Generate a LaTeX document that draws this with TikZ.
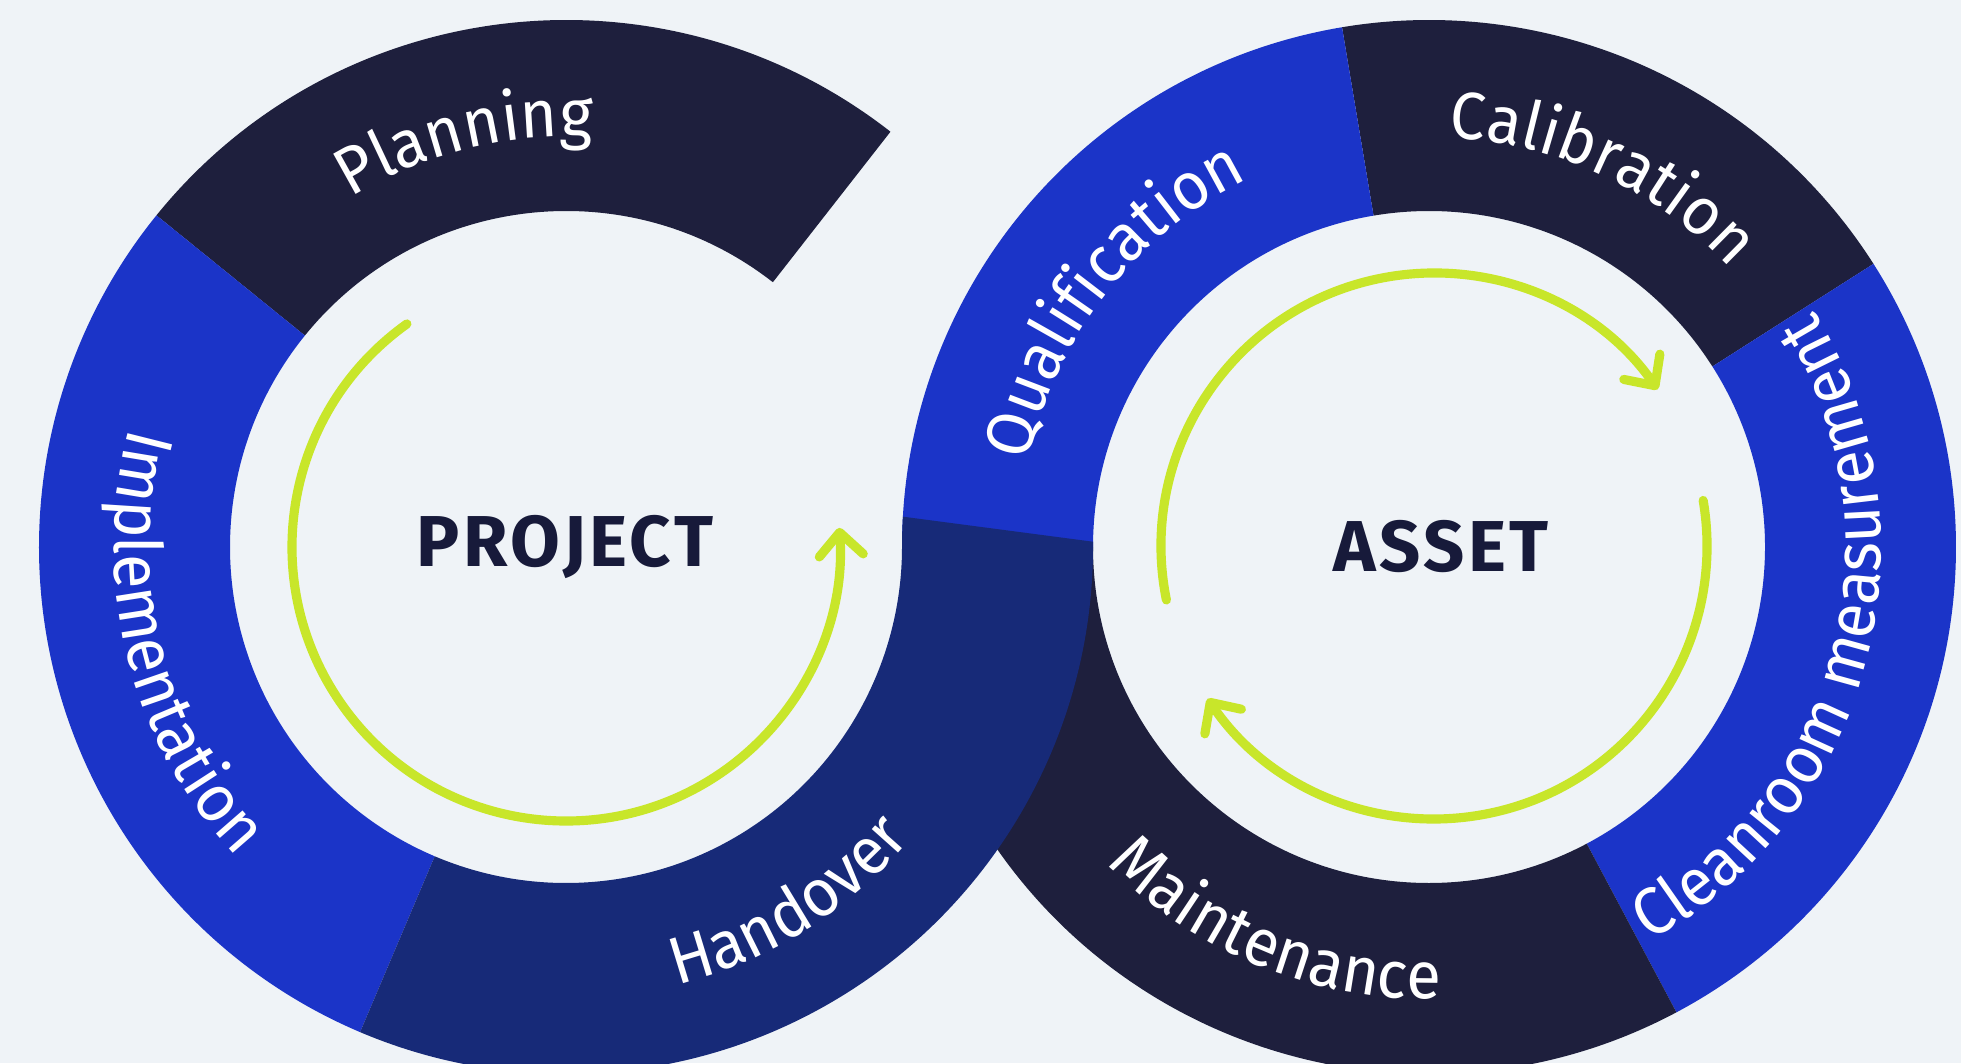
\documentclass[tikz,border=0pt]{standalone}
\usepackage{fontspec}
\setmainfont{Fira Sans}
\newfontfamily\ringfont[FakeStretch=0.95]{Fira Sans}
\newfontfamily\hubfamily[LetterSpace=5]{Fira Sans}
\usetikzlibrary{calc, decorations.text, arrows.meta}

\definecolor{bgpale}{HTML}{EFF3F7}
\definecolor{navydark}{HTML}{1E1F3D}
\definecolor{bluebright}{HTML}{1B34C8}
\definecolor{navymid}{HTML}{172A78}
\definecolor{lime}{HTML}{C8E62A}
\definecolor{inkdark}{HTML}{171A3A}

\newcommand{\ringin}{336}
\newcommand{\ringout}{527}
\newcommand{\lblfont}{\color{white}\ringfont\fontsize{19}{21}\selectfont}
% one piece of a ring: style, centre, from angle, to angle
\newcommand{\ringseg}[4]{
\fill[#1] ($#2+(#3:\ringin)$) arc[start angle=#3, end angle=#4, radius=\ringin]
-- ($#2+(#4:\ringout)$) arc[start angle=#4, end angle=#3, radius=\ringout] -- cycle;
}
% label written along an arc: centre, radius, from angle, to angle, text
\newcommand{\seglabel}[5]{
\path[decorate, decoration={text along path, text align=center, text={|\lblfont|#5}}]
($#1+(#3:#2)$) arc[start angle=#3, end angle=#4, radius=#2];
}

\begin{document}
\begin{tikzpicture}[
x=0.01cm, y=0.01cm,
% ring pieces
dark/.style={fill=navydark},
bright/.style={fill=bluebright},
handover/.style={fill=navymid},
% cycle arrows
cycle/.style={draw=lime, line width=2.6pt, line cap=round, -{Straight Barb[length=2.3mm, width=4.4mm, round]}},
% hub texts
hub/.style={font=\hubfamily\bfseries\fontsize{20.5}{24}\selectfont, text=inkdark}
]

\fill[bgpale] (0,0) rectangle (1961,1063);
\useasboundingbox (0,0) rectangle (1961,1063);

% CENTRES
\coordinate (pc) at (566,516); % project ring
\coordinate (ac) at (1429,516); % asset ring
\coordinate (acarr) at (1434,517); % asset arrows

% ASSET RING
\ringseg{dark}{(ac)}{32.5}{99.5}
\ringseg{bright}{(ac)}{99.5}{180}
\ringseg{bright}{(ac)}{-62}{32.5}
\ringseg{dark}{(ac)}{180}{298}

% PROJECT RING
\ringseg{dark}{(pc)}{52}{141}
\ringseg{bright}{(pc)}{141}{247}
% handover runs on into the asset ring
\fill[handover] ($(pc)+(247:\ringin)$) arc[start angle=247, end angle=360, radius=\ringin]
arc[start angle=180, end angle=176.7, radius=\ringout]
-- ($(ac)+(179.1:\ringin)$) arc[start angle=179.1, end angle=180, radius=\ringin]
arc[start angle=0, end angle=-113, radius=\ringout] -- cycle;

% labels
\seglabel{(pc)}{410}{164}{44}{Planning}
\seglabel{(pc)}{452}{134}{254}{Implementation}
\seglabel{(pc)}{452}{242}{362}{Handover}
\seglabel{(ac)}{410}{202}{82}{Qualification}
\seglabel{(ac)}{410}{125}{5}{Calibration}
\seglabel{(ac)}{452}{-84.6}{55.4}{Cleanroom measurement}
\seglabel{(ac)}{452}{188}{308}{Maintenance}

% hubs
\node[hub] (project) at (565,516) {PROJECT};
\node[hub] (asset) at (1441,516) {ASSET};

% arrows
\draw[cycle] ($(pc)+(125.5:274)$) arc[start angle=125.5, end angle=364, radius=274];
\draw[cycle] ($(acarr)+(191.4:273)$) arc[start angle=191.4, end angle=35, radius=273];
\draw[cycle] ($(acarr)+(9.6:273)$) arc[start angle=9.6, end angle=-146, radius=273];

\end{tikzpicture}
\end{document}
